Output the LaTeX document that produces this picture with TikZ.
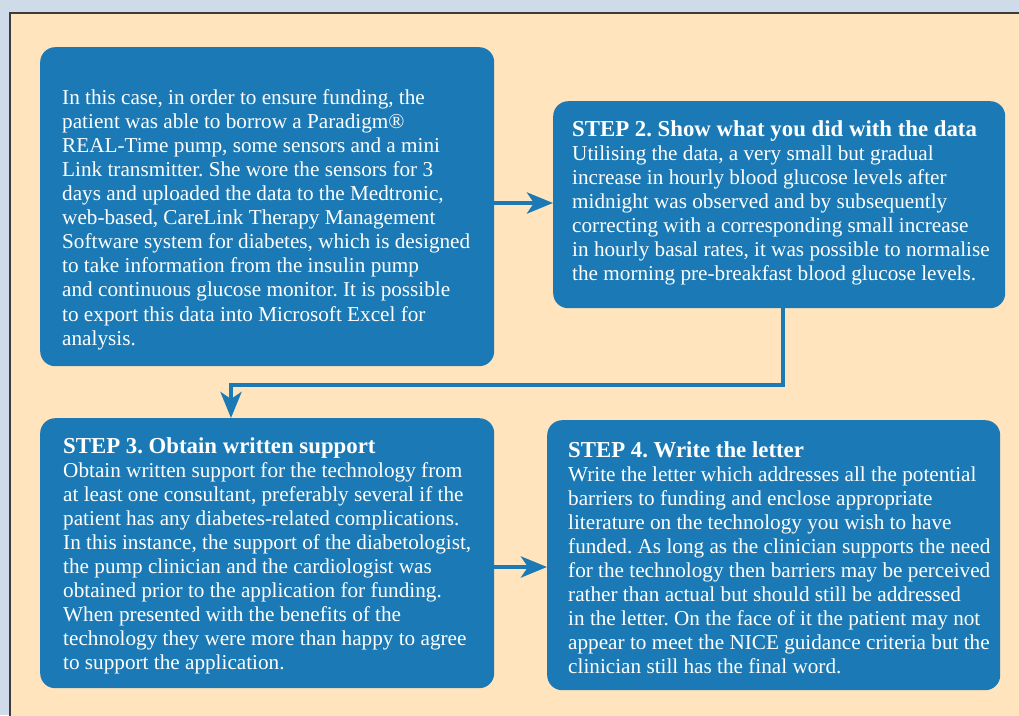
\documentclass[tikz,border=0pt]{standalone}
\usepackage{fontspec}
\setmainfont{Liberation Serif}
\usepackage{tikz}
\usetikzlibrary{positioning}
\usetikzlibrary{arrows.meta}
\usepackage{xcolor}

\definecolor{pagebg}{RGB}{208,219,233}
\definecolor{panelbg}{RGB}{255,228,189}
\definecolor{panelline}{RGB}{60,60,60}
\definecolor{stepblue}{RGB}{27,122,181}

\newcommand{\steptitle}[1]{{\fontsize{22.8}{24.1}\selectfont\bfseries #1}}

\tikzset{
  stepbox/.style={fill=stepblue, rounded corners=15pt, inner sep=0pt, anchor=north west},
  steptext/.style={text=white, align=left, inner sep=0pt, anchor=north west,
    font=\fontsize{21.2}{24.1}\selectfont\frenchspacing},
  flow/.style={stepblue, line width=4.5pt, -{Stealth[length=26pt,width=21pt,inset=7pt]}}
}

\begin{document}
\begin{tikzpicture}[x=1pt,y=-1pt]

\useasboundingbox (0,0) rectangle (1019,715);

% background and panel
\fill[pagebg] (0,0) rectangle (1019,715);
\draw[panelline, fill=panelbg, line width=1.5pt] (10,13) rectangle (1030,730);

% boxes
\node[stepbox, minimum width=454pt, minimum height=319pt] (box1) at (40,47) {};
\node[stepbox, minimum width=452pt, minimum height=207pt] (box2) at (553,101) {};
\node[stepbox, minimum width=454pt, minimum height=270pt] (box3) at (40,418) {};
\node[stepbox, minimum width=453pt, minimum height=270pt] (box4) at (547,420) {};

% texts
\node[steptext, xshift=22pt, yshift=-42pt] (text1) at (box1.north west)
{In this case, in order to ensure funding, the\\
patient was able to borrow a Paradigm®\\
REAL-Time pump, some sensors and a mini\\
Link transmitter. She wore the sensors for 3\\
days and uploaded the data to the Medtronic,\\
web-based, CareLink Therapy Management\\
Software system for diabetes, which is designed\\
to take information from the insulin pump\\
and continuous glucose monitor. It is possible\\
to export this data into Microsoft Excel for\\
analysis.};

\node[steptext, xshift=19pt, yshift=-19pt] (text2) at (box2.north west)
{\steptitle{STEP 2. Show what you did with the data}\\
Utilising the data, a very small but gradual\\
increase in hourly blood glucose levels after\\
midnight was observed and by subsequently\\
correcting with a corresponding small increase\\
in hourly basal rates, it was possible to normalise\\
the morning pre-breakfast blood glucose levels.};

\node[steptext, xshift=23pt, yshift=-19pt] (text3) at (box3.north west)
{\steptitle{STEP 3. Obtain written support}\\
Obtain written support for the technology from\\
at least one consultant, preferably several if the\\
patient has any diabetes-related complications.\\
In this instance, the support of the diabetologist,\\
the pump clinician and the cardiologist was\\
obtained prior to the application for funding.\\
When presented with the benefits of the\\
technology they were more than happy to agree\\
to support the application.};

\node[steptext, xshift=21pt, yshift=-21pt] (text4) at (box4.north west)
{\steptitle{STEP 4. Write the letter}\\
Write the letter which addresses all the potential\\
barriers to funding and enclose appropriate\\
literature on the technology you wish to have\\
funded. As long as the clinician supports the need\\
for the technology then barriers may be perceived\\
rather than actual but should still be addressed\\
in the letter. On the face of it the patient may not\\
appear to meet the NICE guidance criteria but the\\
clinician still has the final word.};

% arrows
\coordinate (row1) at (0,203);
\coordinate (turn1) at (783,385);
\coordinate (turn2) at (231,385);
\coordinate (row3) at (0,567);

\draw[flow] (box1.east |- row1) -- (box2.west |- row1);
\draw[flow] (box2.south -| turn1) -- (turn1) -- (turn2) -- (turn2 |- box3.north);
\draw[flow] (box3.east |- row3) -- (box4.west |- row3);

\end{tikzpicture}
\end{document}
